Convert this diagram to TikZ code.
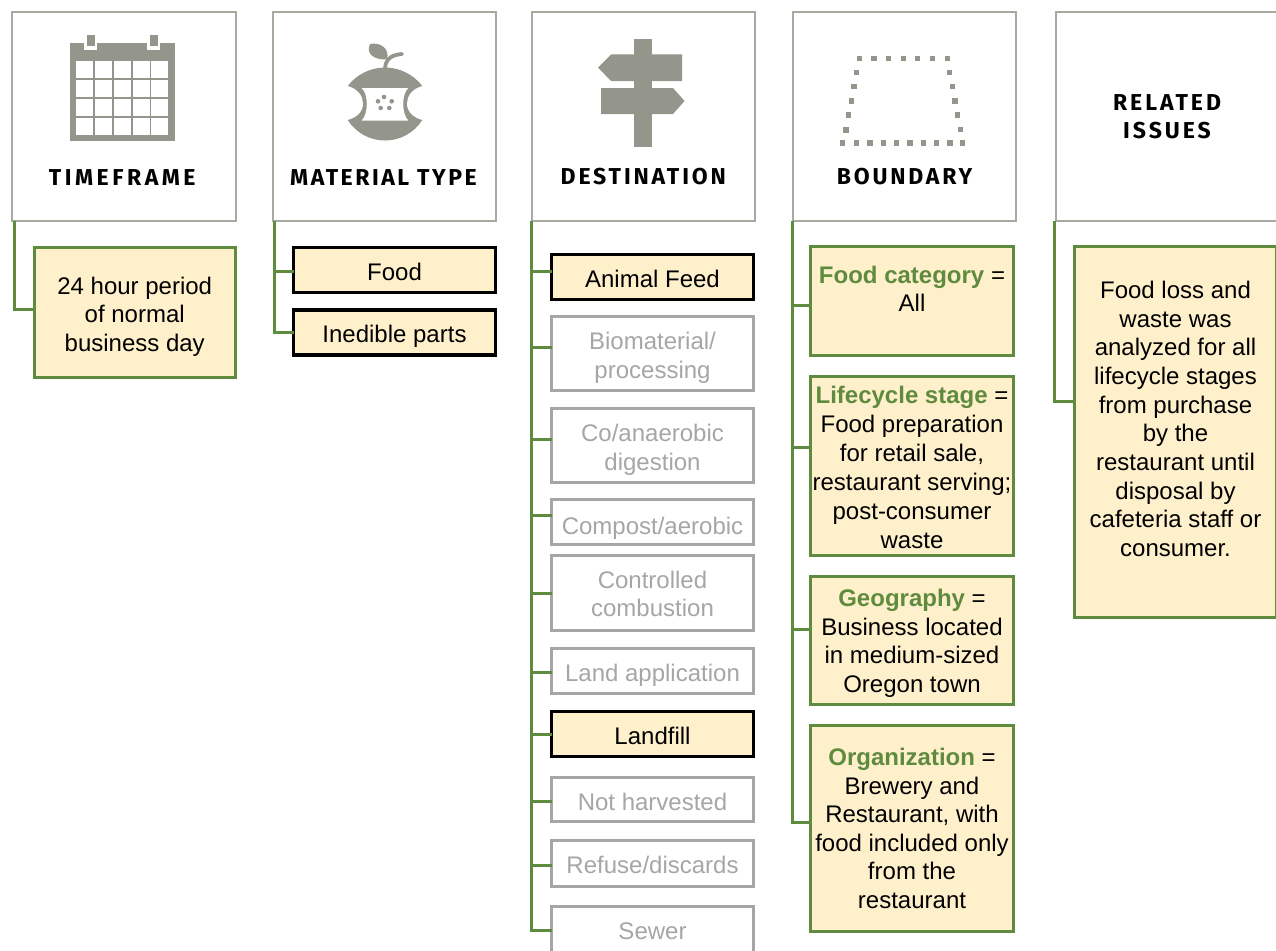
\documentclass[tikz,border=0pt]{standalone}
\usepackage{fontspec}
\setmainfont{Liberation Sans}
\newfontfamily\hdfont[BoldFont={Fira Sans Bold}]{Fira Sans}
\definecolor{icongray}{HTML}{94958B}
\definecolor{hdrline}{HTML}{A8AA9F}
\definecolor{grn}{HTML}{5F8B3F}
\definecolor{paper}{HTML}{FFF0CC}
\definecolor{mute}{HTML}{A6A6A6}
\newcommand\bx[7][]{\node[#2,minimum width={(#5-#3)*1pt},minimum height={(#6-#4)*1pt},#1] (#7) at ({(#3+#5)/2},{(#4+#6)/2})}
\newcommand\hl[1]{\textcolor{grn}{\bfseries #1}}
\newcommand\dn[1]{\rule{0pt}{#1pt}}
\newcommand\up[1]{\rule[-#1pt]{0pt}{#1pt}}
\newcommand\ls[1]{\addfontfeature{LetterSpace=#1}}
\tikzset{
 base/.style={rectangle,inner sep=0pt,outer sep=0pt,align=center,font=\fontsize{24}{28.5}\selectfont},
 hdr/.style={rectangle,inner sep=0pt,outer sep=0pt,align=center,draw=hdrline,line width=2pt,fill=white,font=\hdfont\bfseries\fontsize{23}{28}\selectfont},
 note/.style={base,draw=grn,line width=3pt,fill=paper},
 picked/.style={base,draw=black,line width=3.5pt,fill=paper},
 unpicked/.style={base,draw=mute,line width=3pt,fill=white,text=mute},
 conn/.style={draw=grn,line width=3pt,line join=miter},
 ico/.style={fill=icongray,draw=none},
 icw/.style={fill=white,draw=none}
}
\begin{document}
\begin{tikzpicture}[x=1pt,y=-1pt]
\path[fill=white,use as bounding box] (0,0) rectangle (1276,950);
% headers
\bx{hdr}{12}{12}{235.5}{220.5}{h1} {\dn{137.5}\ls{15.3}TIMEFRAME\kern3pt};
\bx{hdr}{273}{12}{496}{220.5}{h2} {\dn{137.5}\ls{11}MATERIAL TYPE\kern2pt};
\bx{hdr}{531.5}{12}{755}{220.5}{h3} {\dn{137.5}\ls{12.4}DESTINATION};
\bx{hdr}{793}{12}{1016}{220.5}{h4} {\dn{137.5}\ls{12.2}BOUNDARY};
\bx{hdr}{1056}{12}{1278}{220.5}{h5} {\ls{13}RELATED\\\ls{13}ISSUES};
% calendar icon
\fill[ico] (70,43.5) rectangle (175,141);
\foreach \cx in {0,...,4}\foreach \cy in {0,...,3}
 \fill[icw] ({76+\cx*18.85},{61+\cy*18.9}) rectangle ++(17,17);
\fill[icw] (84,40) rectangle (97,50.5);
\fill[icw] (147,40) rectangle (160,50.5);
\fill[ico] (87,35) rectangle (95,46.5);
\fill[ico] (150,35) rectangle (158,46.5);
% apple icon
\fill[ico] (347.7,86) .. controls (356,75) and (370,67.5) .. (385,67.5) .. controls (400,67.5) and (414,75) .. (422.3,86)
 -- (422.3,120) .. controls (414,133) and (400,140.5) .. (385,140.5) .. controls (370,140.5) and (356,133) .. (347.7,120) -- cycle;
\fill[icw] (347.7,86) .. controls (358,89) and (363,96) .. (363,103.5) .. controls (363,111) and (358,117) .. (347.7,120) -- (340,120) -- (340,86) -- cycle;
\fill[icw] (422.3,86) .. controls (412,89) and (407,96) .. (407,103.5) .. controls (407,111) and (412,117) .. (422.3,120) -- (430,120) -- (430,86) -- cycle;
\fill[icw] (361.7,88) -- (408.3,88) .. controls (401.5,94) and (401.5,114) .. (408.3,120.5) -- (361.7,120.5) .. controls (368.5,114) and (368.5,94) .. (361.7,88) -- cycle;
\foreach \sx/\sy in {384/97,391.7/101.3,389.3/108,380.7/108,378/101.3}
 \fill[ico] (\sx,\sy) circle[radius=2.3];
\fill[ico] (370,44) .. controls (380,42) and (390,48) .. (387,59.5) .. controls (376,60) and (365,55) .. (370,44) -- cycle;
\draw[icongray,line width=3.8pt,line cap=round] (385,70) .. controls (385,60) and (390,55) .. (402,54);
% signpost icon
\fill[ico] (633.5,39) rectangle (652,147);
\fill[ico] (598,67.5) -- (611,54.5) -- (682,54.5) -- (682,81) -- (611,81) -- cycle;
\fill[ico] (601,88) -- (673,88) -- (684.5,101) -- (673,114) -- (601,114) -- cycle;
% boundary icon
\foreach \a/\b in {1018/175,1062/175,1105/175,1150/175,1193/175,1238/175,1282/175,
 1010/217,1002/260,994/303,986/345,978/390,1289/217,1297/260,1305/303,1313/345,1321/388,
 968/429,1010/429,1050/429,1090/429,1130/429,1170/429,1210/429,1250/429,1290/429,1328/429}
 \fill[ico] ({\a/3+520-2.75},{\b/3-2.75}) rectangle ++(5.5,5.5);
% timeframe
\bx{note}{34}{247.5}{235.5}{377.5}{tf} {\dn{25.5}24 hour period\\of normal\\business day};
% material
\bx{picked}{293.5}{247.5}{495.5}{292.5}{food} {\dn{21.5}Food};
\bx{picked}{293.5}{310}{495.5}{355}{inedible} {\dn{25.5}Inedible parts};
% destination
\bx{picked}{551.5}{254.5}{753.5}{299.5}{d1} {\dn{21.5}Animal Feed};
\bx{unpicked}{551.5}{316.5}{753.5}{390.5}{d2} {\dn{25.5}Biomaterial/\\processing};
\bx{unpicked}{551.5}{408.5}{753.5}{482.5}{d3} {\dn{25.5}Co/anaerobic\\digestion};
\bx{unpicked}{551.5}{499}{753.5}{544.5}{d4} {\dn{29.5}Compost/aerobic};
\bx{unpicked}{551.5}{555.5}{753.5}{630.5}{d5} {\dn{19.5}Controlled\\combustion};
\bx{unpicked}{551.5}{648.5}{753.5}{693.5}{d6} {\dn{25.5}Land application};
\bx{picked}{551.5}{711.5}{753.5}{756.5}{d7} {\dn{21.5}Landfill};
\bx{unpicked}{551.5}{777}{753.5}{821.5}{d8} {\dn{23.5}Not harvested};
\bx{unpicked}{551.5}{840.5}{753.5}{886.5}{d9} {\dn{19.5}Refuse/discards};
\bx{unpicked}{551.5}{906.5}{753.5}{955}{d10} {Sewer};
% boundary
\bx{note}{810.5}{246}{1013.5}{355.5}{b1} {\hl{Food category} =\\All\up{24}};
\bx[font=\fontsize{24}{29}\selectfont]{note}{810.5}{376}{1013.5}{555.5}{b2} {\dn{20}\hl{Lifecycle stage} =\\Food preparation\\for retail sale,\\restaurant serving;\\post-consumer\\waste};
\bx{note}{810.5}{576.5}{1013.5}{704}{b3} {\dn{23.5}\hl{Geography} =\\Business located\\in medium-sized\\Oregon town};
\bx{note}{810.5}{725.5}{1013.5}{931.5}{b4} {\hl{Organization} =\\Brewery and\\Restaurant, with\\food included only\\from the\\restaurant};
% related
\bx[font=\fontsize{24}{28.65}\selectfont]{note}{1074.5}{246}{1276.5}{617.5}{r1} {Food loss and\\waste was\\analyzed for all\\lifecycle stages\\from purchase\\by the\\restaurant until\\disposal by\\cafeteria staff or\\consumer.\up{26}};
% connector trunks
\coordinate (t1) at (14,221);
\coordinate (t2) at (274,221);
\coordinate (t3) at (531.5,221);
\coordinate (t4) at (792.5,221);
\coordinate (t5) at (1054.5,221);
\draw[conn] (t1) |- (tf.west |- 0,309);
\draw[conn] (t2) |- (inedible.west |- 0,332);
\draw[conn] (t2 |- 0,271) -- (food.west |- 0,271);
\draw[conn] (t3) |- (d10.west |- 0,930);
\foreach \n/\yy in {d1/271,d2/347.7,d3/439.7,d4/515.7,d5/593,d6/672,d7/734.7,d8/801,d9/865}
 \draw[conn] (t3 |- 0,\yy) -- (\n.west |- 0,\yy);
\draw[conn] (t4) |- (b4.west |- 0,822.7);
\foreach \n/\yy in {b1/305,b2/447,b3/629.7}
 \draw[conn] (t4 |- 0,\yy) -- (\n.west |- 0,\yy);
\draw[conn] (t5) |- (r1.west |- 0,401);
\end{tikzpicture}
\end{document}
